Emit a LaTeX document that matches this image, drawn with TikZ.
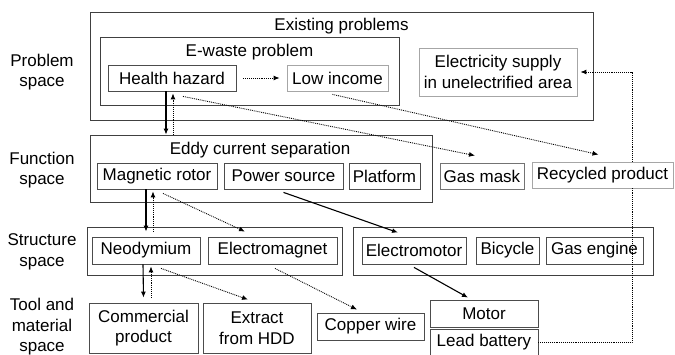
\documentclass[tikz,border=0pt]{standalone}
\usepackage{fontspec}
\setmainfont{Liberation Sans}
\usetikzlibrary{arrows.meta}

\begin{document}
\begin{tikzpicture}[x=1pt, y=-1pt,
    every node/.style={font=\fontsize{17}{20.5}\selectfont, align=center},
    frame/.style={draw=black!75, line width=0.8pt, inner sep=0pt},
    box/.style={draw=black!70, line width=0.8pt, fill=white, inner sep=0pt, minimum height=26},
    mid/.style={box, draw=black!55},
    pale/.style={box, draw=black!35},
    solidarr/.style={-{Latex[length=6pt,width=5pt]}, line width=1.1pt},
    dotarr/.style={-{Latex[length=6pt,width=5pt]}, densely dotted, line width=0.9pt},
]
\useasboundingbox (0,0) rectangle (675,354);

% row labels
\node (lblProblem) at (42,72) {Problem\\space};
\node (lblFunction) at (42,170) {Function\\space};
\node (lblStructure) at (42,252) {Structure\\space};
\node (lblTool) at (42,327) {Tool and\\material\\space};

% problem space
\node[frame, minimum width=503, minimum height=108] (exist) at (341.5,66) {};
\node (existT) at (341.5,26) {Existing problems};
\node[frame, minimum width=299, minimum height=68] (ewaste) at (249.5,71) {};
\node (ewasteT) at (249.5,52) {E-waste problem};
\node[box, minimum width=128] (health) at (172,78) {Health hazard};
\node[pale, minimum width=101] (lowinc) at (337.5,78) {Low income};
\node[pale, minimum width=158, minimum height=48] (elec) at (498,72) {Electricity supply\\in unelectrified area};

% function space
\node[frame, minimum width=342, minimum height=67] (func) at (261,168.5) {};
\node (funcT) at (260,150) {Eddy current separation};
\node[box, minimum width=120] (rotor) at (157,176) {Magnetic rotor};
\node[box, minimum width=119] (power) at (283.5,176) {Power source};
\node[box, minimum width=71] (platform) at (384.5,176) {Platform};
\node[mid, minimum width=84] (gasmask) at (482,176) {Gas mask};
\node[pale, minimum width=141] (recycled) at (602.5,175) {Recycled product};

% structure space
\node[frame, minimum width=255, minimum height=48] (strL) at (214.5,251) {};
\node[box, minimum width=108, minimum height=27] (neo) at (146,250.5) {Neodymium};
\node[box, minimum width=129, minimum height=27] (emagnet) at (272.5,250.5) {Electromagnet};
\node[frame, minimum width=300, minimum height=48] (strR) at (503,251) {};
\node[box, minimum width=104, minimum height=27] (emotor) at (414,250.5) {Electromotor};
\node[box, minimum width=63, minimum height=27] (bicycle) at (507.5,250.5) {Bicycle};
\node[box, minimum width=97, minimum height=27] (gasengine) at (594.5,250.5) {Gas engine};

% tool and material space
\node[box, minimum width=109, minimum height=50] (commercial) at (143.5,328) {Commercial\\product};
\node[box, minimum width=108, minimum height=50] (hdd) at (257,328) {Extract\\from HDD};
\node[box, minimum width=107, minimum height=27] (copper) at (370.5,326.5) {Copper wire};
\node[box, minimum width=108, minimum height=27] (motor) at (484,313.5) {Motor};
\node[box, minimum width=108] (battery) at (484,342) {Lead battery};

% connectors
\draw[dotarr, shorten <=7pt, shorten >=7pt] (health.east) -- (lowinc.west);
\draw[solidarr] ([xshift=-6pt]health.south) -- ([xshift=-6pt]health.south |- func.north);
\draw[dotarr] ([xshift=1pt]health.south |- func.north) -- ([xshift=1pt,yshift=-2pt]health.south);
\draw[dotarr] ([xshift=11pt,yshift=-5pt]health.south) -- ([xshift=-7pt,yshift=7pt]gasmask.north);
\draw[dotarr] ([xshift=-5pt,yshift=-3pt]lowinc.south) -- ([xshift=-4pt,yshift=7pt]recycled.north);
\draw[solidarr] ([yshift=-3pt]power.south) -- ([xshift=-16pt,yshift=4pt]emotor.north);
\draw[solidarr] ([xshift=-11pt]rotor.south) -- ([yshift=5pt]neo.north);
\draw[dotarr] ([xshift=7pt,yshift=5pt]neo.north) -- ([xshift=-4pt,yshift=-2pt]rotor.south);
\draw[dotarr] ([xshift=6pt,yshift=-4pt]rotor.south) -- ([xshift=-27.5pt,yshift=5pt]emagnet.north);
\draw[solidarr] ([xshift=-3pt]neo.south) -- ([yshift=5pt]commercial.north);
\draw[dotarr] ([xshift=7.5pt,yshift=5pt]commercial.north) -- ([xshift=5pt,yshift=-2pt]neo.south);
\draw[dotarr] ([xshift=15pt,yshift=-4pt]neo.south) -- ([xshift=-9pt,yshift=3pt]hdd.north);
\draw[dotarr] ([xshift=2.5pt,yshift=-4pt]emagnet.south) -- ([xshift=-13.5pt,yshift=3pt]copper.north);
\draw[solidarr] ([yshift=-3pt]emotor.south) -- ([xshift=-16pt,yshift=2pt]motor.north);
\coordinate (route) at (632,71);
\draw[densely dotted, line width=0.9pt] (battery.east) -| (recycled.south -| route);
\draw[dotarr] (recycled.north -| route) |- ([xshift=3pt]elec.east);
\end{tikzpicture}
\end{document}
